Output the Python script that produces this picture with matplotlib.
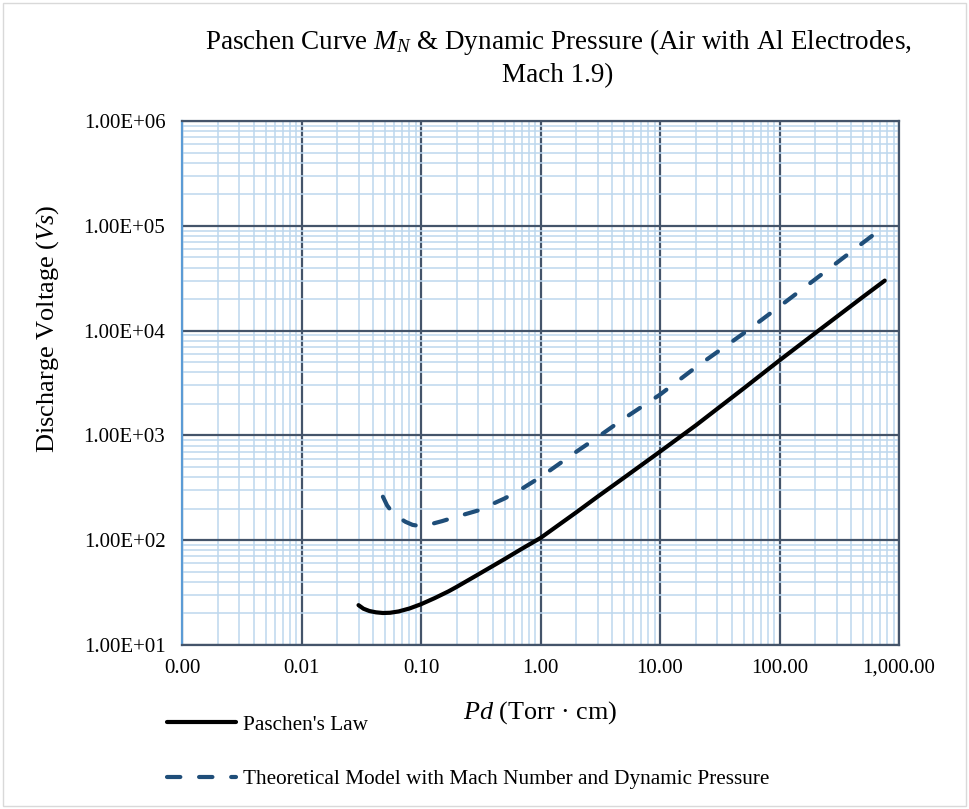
"""
Paschen curve vs. model with Mach number and dynamic pressure (log-log)
"""
import matplotlib
matplotlib.use('Agg')
import matplotlib.pyplot as plt
from matplotlib.patches import Rectangle
from matplotlib.ticker import FixedLocator, FuncFormatter, LogLocator, NullFormatter

plt.rcParams['font.family'] = ['Liberation Serif', 'DejaVu Serif']
plt.rcParams['mathtext.fontset'] = 'custom'
plt.rcParams['mathtext.rm'] = 'Liberation Serif'
plt.rcParams['mathtext.it'] = 'Liberation Serif:italic'

# Paschen's law (Pd in Torr*cm, Vs in V)
paschen_pd = [0.03, 0.033, 0.037, 0.042, 0.048, 0.055, 0.065, 0.08, 0.1, 0.13, 0.17, 0.2,
              0.3, 0.5, 0.7, 1, 2, 3, 5, 10, 20, 50, 100, 200, 500, 760]
paschen_vs = [24, 22.2, 21.1, 20.5, 20.2, 20.3, 20.9, 22.3, 24.5, 28, 32.5, 36,
              47, 66, 83, 105, 185, 260, 395, 700, 1250, 2800, 5200, 9500, 21000, 30000]

# theoretical model with Mach number and dynamic pressure
model_pd = [0.048, 0.052, 0.057, 0.065, 0.074, 0.085, 0.1, 0.12, 0.15, 0.2, 0.3, 0.5, 0.7,
            1, 2, 3, 5, 10, 20, 50, 100, 200, 500, 760]
model_vs = [260, 215, 187, 165, 150, 140, 136, 142, 152, 168, 192, 250, 310,
            400, 700, 960, 1450, 2450, 4480, 9400, 17000, 31000, 69000, 99000]

x_ticks = [0.001, 0.01, 0.1, 1, 10, 100, 1000]
y_ticks = [1e1, 1e2, 1e3, 1e4, 1e5, 1e6]

W, H = 969, 809
fig = plt.figure(figsize=(W / 100, H / 100), dpi=100)
ax = fig.add_axes([182 / W, 1 - 645 / H, (899 - 182) / W, (645 - 121) / H])

ax.plot(paschen_pd, paschen_vs, color='black', lw=3.0, solid_capstyle='round',
        label="Paschen's Law", zorder=4)
ax.plot(model_pd, model_vs, color='#1F4E79', lw=3.0, dashes=(3.2, 4.5),
        dash_capstyle='round', label='Theoretical Model with Mach Number and Dynamic Pressure',
        zorder=4)

ax.set_xscale('log')
ax.set_yscale('log')
ax.set_xlim(0.001, 1000)
ax.set_ylim(10, 1e6)

ax.xaxis.set_major_locator(FixedLocator(x_ticks))
ax.yaxis.set_major_locator(FixedLocator(y_ticks))
ax.xaxis.set_minor_locator(LogLocator(base=10, subs=range(2, 10), numticks=20))
ax.yaxis.set_minor_locator(LogLocator(base=10, subs=range(2, 10), numticks=20))
ax.xaxis.set_minor_formatter(NullFormatter())
ax.yaxis.set_minor_formatter(NullFormatter())
ax.xaxis.set_major_formatter(FuncFormatter(lambda v, p: f'{v:,.2f}'))
ax.yaxis.set_major_formatter(FuncFormatter(lambda v, p: f'{v:.2E}'))

ax.tick_params(which='both', length=0, labelsize=15, colors='black')
ax.tick_params(axis='x', pad=10)
ax.tick_params(axis='y', pad=12)

ax.grid(True, which='minor', color='#BDD7EE', lw=1.1)
ax.grid(True, which='major', color='#44546A', lw=1.6)
ax.set_axisbelow(True)

for side in ['top', 'right', 'bottom']:
    ax.spines[side].set_color('#44546A')
    ax.spines[side].set_linewidth(1.6)
ax.spines['left'].set_color('#5B9BD5')
ax.spines['left'].set_linewidth(1.6)

ax.set_xlabel('$Pd$ (Torr · cm)', fontsize=18.8)
ax.xaxis.label.set_va('center')
ax.xaxis.set_label_coords(0.5, (645 - 713) / 524)
ax.set_ylabel('Discharge Voltage ($Vs$)', fontsize=19)
ax.yaxis.label.set_va('center')
ax.yaxis.set_label_coords((48 - 182) / 717, (645 - 329) / 524)

fig.text(558 / W, 1 - 27 / H,
         'Paschen Curve $M_N$ & Dynamic Pressure (Air with Al Electrodes,\nMach 1.9)',
         ha='center', va='top', fontsize=19.5, multialignment='center', linespacing=1.3)

fig.legend(loc='upper left', bbox_to_anchor=(167 / W, 1 - 715 / H), frameon=False,
           fontsize=15.3, handlelength=3.25, handletextpad=0.33, labelspacing=1.62,
           borderpad=0, borderaxespad=0)

fig.patches.append(Rectangle((3 / W, 3 / H), 1 - 6 / W, 1 - 6 / H, transform=fig.transFigure,
                             fill=False, edgecolor='#D9D9D9', lw=1.0))

fig.savefig('out.png', dpi=100, facecolor='white')
